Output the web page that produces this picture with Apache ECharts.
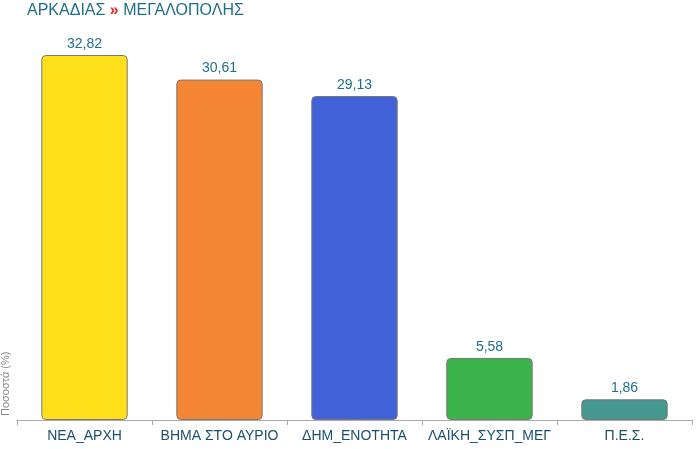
<!DOCTYPE html>
<html>
<head>
<meta charset="utf-8">
<script src="https://cdn.jsdelivr.net/npm/echarts@6/dist/echarts.min.js"></script>
<style>
  html, body { margin: 0; padding: 0; background: #fff; }
  #chart { width: 696px; height: 449px; }
</style>
</head>
<body>
<div id="chart"></div>
<script>
const categories = ['ΝΕΑ_ΑΡΧΗ', 'ΒΗΜΑ ΣΤΟ ΑΥΡΙΟ', 'ΔΗΜ_ΕΝΟΤΗΤΑ', 'ΛΑΪΚΗ_ΣΥΣΠ_ΜΕΓ', 'Π.Ε.Σ.'];
const values = [32.82, 30.61, 29.13, 5.58, 1.86];
const barColors = ['#FFE01A', '#F58634', '#4162D8', '#3CB44B', '#469990'];

const chart = echarts.init(document.getElementById('chart'));

chart.setOption({
  animation: false,
  textStyle: { fontFamily: 'Arial, Liberation Sans, sans-serif' },
  title: {
    text: '{a|ΑΡΚΑΔΙΑΣ }{b|»}{a| ΜΕΓΑΛΟΠΟΛΗΣ}',
    left: 22,
    top: -2,
    textStyle: {
      rich: {
        a: { fontSize: 16, color: '#1f6f8b', fontWeight: 'normal' },
        b: { fontSize: 16, color: '#e3262b', fontWeight: 'bold' }
      }
    }
  },
  grid: { left: 17, right: 4, top: 55, bottom: 29 },
  xAxis: {
    type: 'category',
    data: categories,
    axisLine: { lineStyle: { color: '#aaaaaa' } },
    axisTick: { show: true, length: 5, lineStyle: { color: '#aaaaaa' } },
    axisLabel: { color: '#1a4f6e', fontSize: 14, margin: 9, interval: 0 }
  },
  yAxis: {
    type: 'value',
    min: 0,
    max: 32.82,
    name: 'Ποσοστά (%)',
    nameLocation: 'start',
    nameRotate: 90,
    nameGap: 0,
    nameTextStyle: { color: '#888', fontSize: 11, align: 'left', verticalAlign: 'bottom', padding: [0, 0, 6, 4] },
    axisLine: { show: false },
    axisTick: { show: false },
    axisLabel: { show: false },
    splitLine: { show: false }
  },
  series: [{
    type: 'bar',
    data: values.map((v, i) => ({ value: v, itemStyle: { color: barColors[i] } })),
    barWidth: '64%',
    itemStyle: { borderColor: '#777', borderWidth: 1, borderRadius: 4 },
    label: {
      show: true,
      position: 'top',
      color: '#1f6f8b',
      fontSize: 14,
      distance: 4,
      formatter: p => p.value.toFixed(2).replace('.', ',')
    }
  }]
});
</script>
</body>
</html>
